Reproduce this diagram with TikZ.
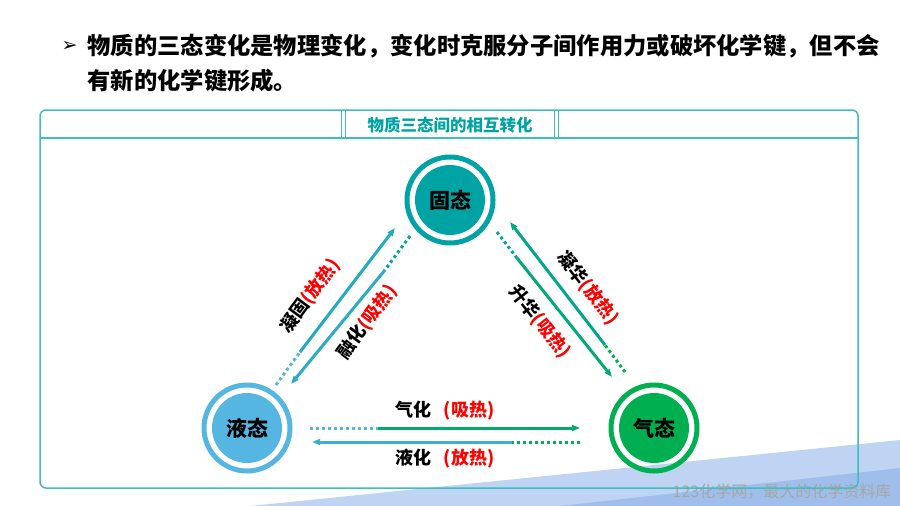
\documentclass[tikz,border=0pt]{standalone}
\usepackage{fontspec}
\setmainfont{Noto Sans CJK SC}
\newfontfamily\symfont{DejaVu Sans}
\usetikzlibrary{positioning}
\usetikzlibrary{arrows.meta}
\definecolor{teal1}{RGB}{0,163,163}
\definecolor{frame1}{RGB}{64,190,190}
\definecolor{lblue}{RGB}{86,182,226}
\definecolor{green1}{RGB}{0,176,80}
\definecolor{bg1}{RGB}{190,212,242}
\definecolor{bg2}{RGB}{160,190,236}
\begin{document}
\begin{tikzpicture}[x=1pt,y=-1pt,>={Triangle[length=8pt,width=6pt]}]
    \tikzset{state/.style= {circle, minimum size=70pt, text=black, font=\bfseries\fontsize{21}{21}\selectfont},
             ring/.style= {circle, line width=5pt, minimum size=86pt},
             lab/.style= {font=\bfseries\fontsize{18}{18}\selectfont, inner sep=1pt},
             solid arrow/.style= {line width=3pt, ->},
             dot line/.style= {line width=3pt, dash pattern=on 3pt off 3pt},}

    \useasboundingbox (0,0) rectangle (900,506);
    % background corner
    \fill[bg1] (250,506) -- (900,440) -- (900,506) -- cycle;
    \fill[bg2] (560,506) -- (900,468) -- (900,506) -- cycle;
    \node[text=gray!70, font=\fontsize{16}{16}\selectfont] (wm) at (782,492) {123化学网，最大的化学资料库};

    % bullet text
    \node[anchor=west, font=\symfont\bfseries\fontsize{19}{19}\selectfont] (bul) at (58,46) {➢};
    \node[anchor=west, font=\bfseries\fontsize{23.3}{23.3}\selectfont] (line1) at (84,46) {物质的三态变化是物理变化，变化时克服分子间作用力或破坏化学键，但不会};
    \node[anchor=west, font=\bfseries\fontsize{23.3}{23.3}\selectfont] (line2) at (84,81) {有新的化学键形成。};

    % frame
    \draw[frame1, line width=1.5pt, rounded corners=6pt] (40,110) rectangle (858,488);
    \draw[frame1, line width=1.5pt] (40,138) -- (858,138);
    \draw[frame1, line width=1pt] (341,110) -- (341,138) (345,110) -- (345,138)
        (554,110) -- (554,138) (558,110) -- (558,138);
    \node[text=teal1, font=\bfseries\fontsize{16.5}{16.5}\selectfont] (title) at (450,125) {物质三态间的相互转化};

    % states
    \node[state, fill=teal1] (solid) at (450,200) {固态};
    \node[ring, draw=teal1] at (solid) {};
    \node[state, fill=lblue] (liquid) at (247,428) {液态};
    \node[ring, draw=lblue] at (liquid) {};
    \node[state, fill=green1] (gas) at (654,428) {气态};
    \node[ring, draw=green1] at (gas) {};

    \coordinate (l1a) at (276,385); \coordinate (l1b) at (300,352); \coordinate (l1c) at (395,228);
    \coordinate (l2a) at (410,236); \coordinate (l2b) at (385,270); \coordinate (l2c) at (291,384);
    \coordinate (r1a) at (625,372); \coordinate (r1b) at (605,345); \coordinate (r1c) at (510,222);
    \coordinate (r2a) at (497,232); \coordinate (r2b) at (517,258); \coordinate (r2c) at (612,377);
    \coordinate (b1a) at (310,428); \coordinate (b1b) at (378,428); \coordinate (b1c) at (580,428);
    \coordinate (b2a) at (580,442); \coordinate (b2b) at (512,442); \coordinate (b2c) at (312,442);

    % connectors
    \draw[dot line, lblue] (l1a) -- (l1b);
    \draw[solid arrow, teal1!60!lblue] (l1b) -- (l1c);
    \draw[dot line, teal1] (l2a) -- (l2b);
    \draw[solid arrow, teal1!50!lblue] (l2b) -- (l2c);
    \draw[dot line, green1] (r1a) -- (r1b);
    \draw[solid arrow, teal1!70!green1] (r1b) -- (r1c);
    \draw[dot line, teal1] (r2a) -- (r2b);
    \draw[solid arrow, teal1!50!green1] (r2b) -- (r2c);
    \draw[dot line, lblue] (b1a) -- (b1b);
    \draw[solid arrow, green1!70!teal1] (b1b) -- (b1c);
    \draw[dot line, green1] (b2a) -- (b2b);
    \draw[solid arrow, lblue!70!teal1] (b2b) -- (b2c);

    % labels
    \node[lab, rotate=53.6] (lab1) at (310,296) {凝固\textcolor{red}{(放热)}};
    \node[lab, rotate=53.6] (lab2) at (367,322) {融化\textcolor{red}{(吸热)}};
    \node[lab, rotate=-52] (lab3) at (588,288) {凝华\textcolor{red}{(放热)}};
    \node[lab, rotate=-52] (lab4) at (540,322) {升华\textcolor{red}{(吸热)}};
    \node[lab] (lab5) at (445,411) {气化\hspace{12pt}\textcolor{red}{(吸热)}};
    \node[lab] (lab6) at (445,459) {液化\hspace{12pt}\textcolor{red}{(放热)}};
\end{tikzpicture}
\end{document}
